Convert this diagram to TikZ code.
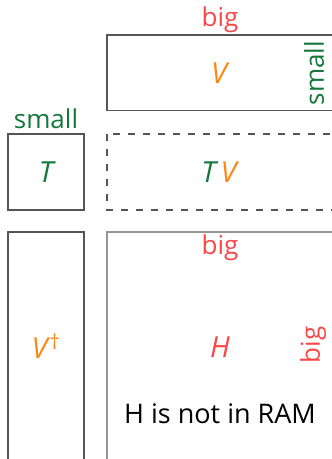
\documentclass[tikz,border=0pt]{standalone}
\usepackage{fontspec}
\setmainfont{Open Sans}
\definecolor{bigred}{RGB}{250,70,70}
\definecolor{vorange}{RGB}{255,135,20}
\definecolor{smgreen}{RGB}{20,120,60}
\definecolor{boxgray}{RGB}{85,85,85}
\definecolor{hgray}{RGB}{150,150,150}
\begin{document}
\begin{tikzpicture}[x=1pt,y=-1pt,
  box/.style={draw=boxgray,line width=1.2pt},
  hbox/.style={draw=hgray,line width=1.2pt},
  dbox/.style={draw=boxgray,line width=1.2pt,dash pattern=on 7pt off 8pt},
  lbl/.style={inner sep=0pt,font=\fontsize{26}{30}\selectfont},
  sym/.style={inner sep=0pt,font=\fontsize{29}{32}\selectfont\itshape},
  big/.style={lbl,text=bigred},
  sm/.style={lbl,text=smgreen}]
\useasboundingbox (0,0) rectangle (332,459);
\clip (0,0) rectangle (332,459);
% boxes
\draw[box] (107,35) rectangle (360,110.5);
\draw[box] (8,134) rectangle (84,210);
\draw[dbox] (107,134) rectangle (360,210);
\draw[box] (8,232) rectangle (84,500);
\draw[hbox] (107,232) rectangle (360,500);
% labels
\node[big] (bigtop) at (220,20) {big};
\node[sym,text=vorange] (V) at (219,73) {V};
\node[sm,rotate=90] (smallr) at (314,73) {small};
\node[sm] (smalll) at (46,119) {small};
\node[sym,text=smgreen] (T) at (46,172) {T};
\node[sym] (TV) at (219,172) {\textcolor{smgreen}{T}\,\textcolor{vorange}{V}};
\node[sym,text=vorange] (Vd) at (46,346) {V\kern2pt\textsuperscript{\upshape †}};
\node[big] (bigh) at (220,248) {big};
\node[sym,text=bigred] (H) at (220,347) {H};
\node[big,rotate=90] (bigr) at (313,345) {big};
\node[lbl,font=\fontsize{27}{30}\selectfont] (ram) at (220,414) {H is not in RAM};
\end{tikzpicture}
\end{document}
